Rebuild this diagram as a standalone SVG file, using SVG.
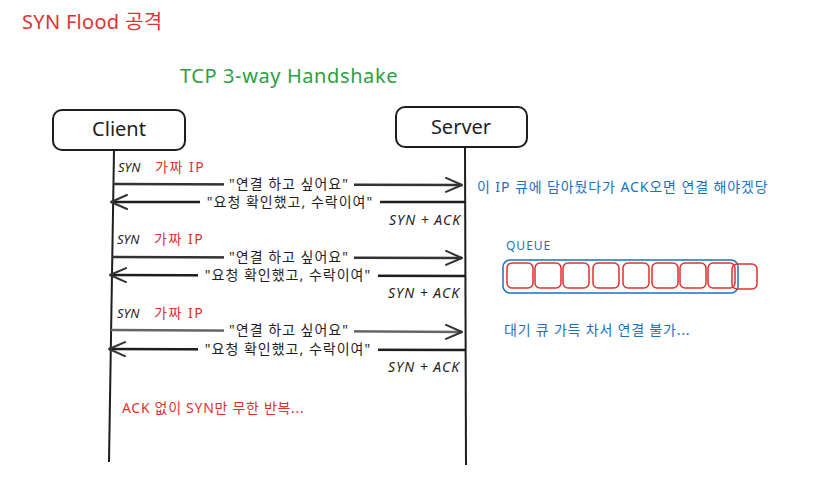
<svg xmlns="http://www.w3.org/2000/svg" width="824" height="501" viewBox="0 0 824 501">
<defs>
<style>
text{font-family:"Noto Sans","Noto Sans CJK KR",sans-serif;}
.lbl{font-size:14px;fill:#1e1e1e;text-anchor:middle;letter-spacing:1px;}
.syn{font-size:13px;fill:#1e1e1e;font-style:italic;}
.sa{font-size:14px;fill:#1e1e1e;font-style:italic;letter-spacing:1px;text-anchor:end;}
.fake{font-size:14px;fill:#e03131;letter-spacing:1.5px;}
.red{fill:#e03131;}
.blue{fill:#1971c2;}
.box{fill:#fff;stroke:#1e1e1e;stroke-width:2;}
.life{stroke:#1e1e1e;stroke-width:2;fill:none;}
.fw{stroke:#333;stroke-width:2.5;fill:none;}
.bw{stroke:#1e1e1e;stroke-width:2.5;fill:none;}
.bg{fill:#fff;}
.cell{fill:none;stroke:#e03131;stroke-width:1.5;}
</style>
<marker id="ah" markerUnits="userSpaceOnUse" markerWidth="20" markerHeight="16" refX="17" refY="8" orient="auto">
<path d="M1,1 L17,8 L1,15" fill="none" stroke="#333" stroke-width="2" stroke-linecap="round" stroke-linejoin="round"/>
</marker>
</defs>
<rect width="824" height="501" fill="#fff"/>
<text x="22" y="29" font-size="20" class="red" letter-spacing="0.3">SYN Flood 공격</text>
<text x="180" y="83" font-size="20" style="fill:#2f9e44" letter-spacing="0.6">TCP 3-way Handshake</text>

<g id="client">
<rect class="box" x="53" y="110" width="132" height="40" rx="9"/>
<text x="119" y="136" font-size="20" text-anchor="middle" fill="#1e1e1e">Client</text>
</g>
<g id="server">
<rect class="box" x="396" y="107" width="131" height="40" rx="9"/>
<text x="461" y="134" font-size="20" text-anchor="middle" fill="#1e1e1e">Server</text>
</g>

<g id="connectors">
<path class="life" d="M114,150 L109,462"/>
<path class="life" d="M465,147 L466,465"/>
<path class="fw" d="M113,184 L462,185" marker-end="url(#ah)"/>
<path class="bw" d="M465,202 L111,202" marker-end="url(#ah)"/>
<path class="fw" d="M112,257 L462,258" marker-end="url(#ah)"/>
<path class="bw" d="M465,276 L110,275" marker-end="url(#ah)"/>
<path class="fw" style="stroke:#666" d="M111,330 L462,332" marker-end="url(#ah)"/>
<path class="bw" d="M465,350 L109,349" marker-end="url(#ah)"/>
</g>

<g id="labels">
<text class="syn" x="118" y="172">SYN</text><text x="155" y="172" class="fake">가짜 IP</text>
<rect class="bg" x="224" y="175" width="130" height="18"/>
<text class="lbl" x="289" y="189">"연결 하고 싶어요"</text>
<rect class="bg" x="200" y="193" width="180" height="18"/>
<text class="lbl" x="290" y="207">"요청 확인했고, 수락이여"</text>
<text class="sa" x="461" y="225">SYN + ACK</text>

<text class="syn" x="117" y="244">SYN</text><text x="154" y="244" class="fake">가짜 IP</text>
<rect class="bg" x="224" y="248" width="130" height="18"/>
<text class="lbl" x="289" y="262">"연결 하고 싶어요"</text>
<rect class="bg" x="198" y="266" width="180" height="18"/>
<text class="lbl" x="288" y="280">"요청 확인했고, 수락이여"</text>
<text class="sa" x="460" y="298">SYN + ACK</text>

<text class="syn" x="117" y="318">SYN</text><text x="154" y="318" class="fake">가짜 IP</text>
<rect class="bg" x="224" y="321" width="130" height="18"/>
<text class="lbl" x="289" y="335">"연결 하고 싶어요"</text>
<rect class="bg" x="198" y="340" width="180" height="18"/>
<text class="lbl" x="288" y="354">"요청 확인했고, 수락이여"</text>
<text class="sa" x="460" y="372">SYN + ACK</text>

<text x="122" y="413" font-size="14" class="red" letter-spacing="0.7">ACK 없이 SYN만 무한 반복...</text>
</g>

<text x="477" y="192" font-size="14" class="blue" letter-spacing="0.9">이 IP 큐에 담아뒀다가 ACK오면 연결 해야겠당</text>
<text x="506" y="250" font-size="12" class="blue" letter-spacing="1">QUEUE</text>

<g id="queue">
<rect x="503" y="260" width="235" height="33" rx="7" fill="none" stroke="#1971c2" stroke-width="1.5"/>
<rect class="cell" x="507" y="263" width="26" height="25" rx="5"/>
<rect class="cell" x="535" y="263" width="26" height="25" rx="5"/>
<rect class="cell" x="563" y="263" width="26" height="25" rx="5"/>
<rect class="cell" x="593" y="263" width="26" height="25" rx="5"/>
<rect class="cell" x="623" y="263" width="26" height="25" rx="5"/>
<rect class="cell" x="652" y="263" width="26" height="25" rx="5"/>
<rect class="cell" x="680" y="263" width="26" height="25" rx="5"/>
<rect class="cell" x="708" y="263" width="27" height="25" rx="5"/>
<rect class="cell" x="732" y="264" width="25" height="25" rx="5"/>
</g>

<text x="504" y="335" font-size="14" class="blue" letter-spacing="0.8">대기 큐 가득 차서 연결 불가...</text>
</svg>
